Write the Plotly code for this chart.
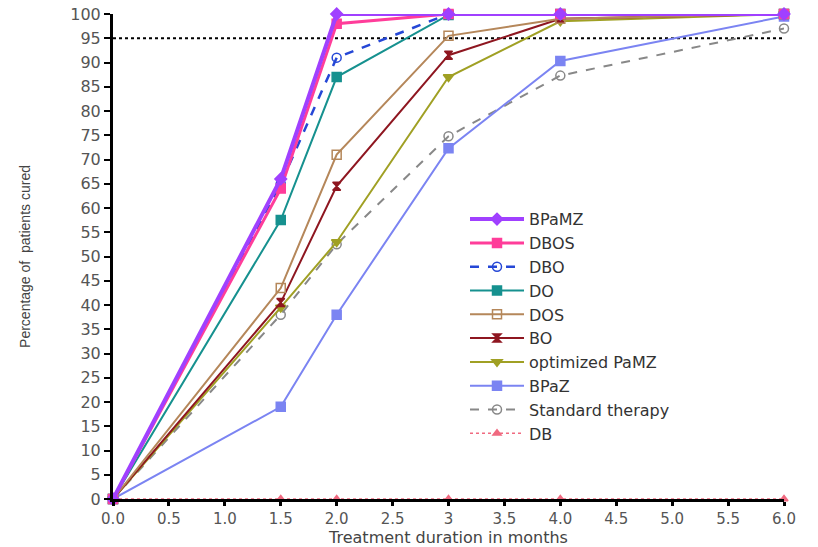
import plotly.graph_objects as go

months = [0, 1.5, 2, 3, 4, 6]
bpamz = [0, 66, 100, 100, 100, 100]
dbos = [0, 64, 98, 100, 100, 100]
dbo = [0, 65, 91, 100, 100, 100]
do_ = [0, 57.5, 87, 99.8, 100, 100]
dos = [0, 43.5, 71, 95.5, 99, 100]
bo = [0, 40.5, 64.5, 91.5, 99, 100]
opt_pamz = [0, 39.5, 53, 87, 98.5, 100]
bpaz = [0, 19, 38, 72.3, 90.3, 99.5]
standard = [0, 38, 52.5, 74.8, 87.3, 97]
db = [0, 0, 0, 0, 0, 0]

series = [
    ("BPaMZ", bpamz, "#a040ff", 4, "solid", "diamond", 9),
    ("DBOS", dbos, "#ff3d9a", 3, "solid", "square", 9),
    ("DBO", dbo, "#2547d6", 2.5, "dash", "circle-open", 9),
    ("DO", do_, "#16918f", 2, "solid", "square", 9),
    ("DOS", dos, "#b5875a", 2, "solid", "square-open", 9),
    ("BO", bo, "#8e1620", 2, "solid", "hourglass", 8),
    ("optimized PaMZ", opt_pamz, "#a0a024", 2, "solid", "triangle-down", 9),
    ("BPaZ", bpaz, "#7b84f2", 2, "solid", "square", 9),
    ("Standard therapy", standard, "#888888", 2, "dash", "circle-open", 9),
    ("DB", db, "#f06a80", 1.5, "dot", "triangle-up", 7),
]

xticks = [0, 0.5, 1, 1.5, 2, 2.5, 3, 3.5, 4, 4.5, 5, 5.5, 6]
xticklabels = ["0.0", "0.5", "1.0", "1.5", "2.0", "2.5", "3", "3.5", "4.0", "4.5", "5.0", "5.5", "6.0"]
yticks = list(range(0, 101, 5))
threshold = 95

fig = go.Figure()
for rank, (name, vals, col, w, dash, sym, size) in reversed(list(enumerate(series))):
    fig.add_trace(go.Scatter(
        x=months, y=vals, name=name, mode="lines+markers",
        line=dict(color=col, width=w, dash=dash),
        marker=dict(symbol=sym, size=size, color=col, line=dict(color=col, width=1.5)),
        cliponaxis=False, legendrank=rank + 1,
    ))

fig.add_shape(type="line", x0=0, x1=6, y0=threshold, y1=threshold, xref="x", yref="y",
              line=dict(color="black", width=2, dash="dot"), layer="below")

fig.update_layout(
    width=818, height=547,
    margin=dict(l=113, r=34, t=14, b=48, autoexpand=False),
    plot_bgcolor="white", paper_bgcolor="white",
    showlegend=True,
    legend=dict(x=0.5246, y=0.612, xanchor="left", yanchor="top",
                font=dict(family="DejaVu Sans", size=16, color="#333333"),
                bgcolor="rgba(0,0,0,0)", itemwidth=54, tracegroupgap=0),
    xaxis=dict(range=[0, 6], tickmode="array", tickvals=xticks, ticktext=xticklabels,
               automargin=False, ticklabeloverflow="allow",
               showline=True, linecolor="black", linewidth=3, showgrid=False, zeroline=False,
               ticks="outside", ticklen=4, tickwidth=3, tickcolor="black",
               tickfont=dict(family="DejaVu Sans", size=15, color="#555555"),
               title=dict(text="Treatment duration in months",
                          font=dict(family="DejaVu Sans", size=16, color="#444444"), standoff=5)),
    yaxis=dict(range=[0, 100], tickmode="array", tickvals=yticks,
               automargin=False, ticklabeloverflow="allow",
               showline=True, linecolor="black", linewidth=3, showgrid=False, zeroline=False,
               ticks="outside", ticklen=6, tickwidth=2, tickcolor="black",
               tickfont=dict(family="DejaVu Sans", size=16, color="#555555"),
               title=dict(text="Percentage of  patients cured",
                          font=dict(family="Liberation Sans", size=14, color="#444444"), standoff=37)),
)

fig.write_html(
    "out.html",
    config={"displayModeBar": False},
    post_script="document.body.style.margin='0';document.body.style.overflow='hidden';",
)
